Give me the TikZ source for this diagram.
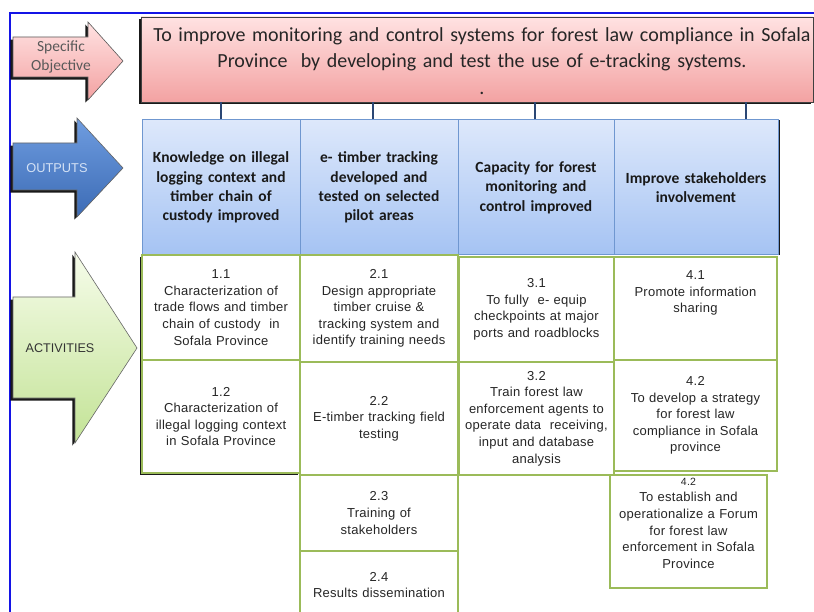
\documentclass[tikz,border=0pt]{standalone}
\usepackage{fontspec}
\setmainfont{Carlito}
\newfontfamily\arialf[LetterSpace=2]{Liberation Sans}
\newfontfamily\arialp{Liberation Sans}
\usetikzlibrary{shadows}
\definecolor{gbord}{HTML}{9BBB59}
\definecolor{obord}{HTML}{6F97D0}
\definecolor{otop}{HTML}{DDE8FB}
\definecolor{obot}{HTML}{A5C3F3}
\definecolor{ptop}{HTML}{FFE2E2}
\definecolor{pbot}{HTML}{F3A2A2}
\definecolor{conncol}{HTML}{2B4775}
\definecolor{framecol}{HTML}{1414E6}
\definecolor{btop}{HTML}{6F9DE0}
\definecolor{bbot}{HTML}{3C6BB5}
\definecolor{btext}{HTML}{D5E2F5}
\definecolor{gtop}{HTML}{F6FCEA}
\definecolor{gbot}{HTML}{C3E396}
\begin{document}
\begin{tikzpicture}[x=1pt,y=-1pt,
  actbox/.style={draw=gbord, line width=1.4pt, fill=white, align=center,
    font=\arialf\fontsize{13}{16.6}\selectfont, inner sep=0pt, text width=152pt, text=black!85},
  outbox/.style={draw=obord, line width=1pt, top color=otop, bottom color=obot,
    minimum height=135pt, inner sep=0pt, text width=150pt, align=center,
    font=\bfseries\fontsize{15.5}{19.3}\selectfont, text=black!90},
  bigarrow/.style={draw=black!70, line width=0.6pt},
  conn/.style={draw=conncol, line width=2.6pt},
  shad/.style={drop shadow={shadow xshift=-1.8pt, shadow yshift=-1.8pt, fill=black, opacity=0.9}},
  ashad/.style={drop shadow={shadow xshift=-2.6pt, shadow yshift=-2.6pt, fill=black, opacity=0.9}}
]
\useasboundingbox (0,0) rectangle (814,612);
\fill[white] (0,0) rectangle (814,612);

% frame
\draw[framecol, line width=1.6pt] (10,614) -- (10,13) -- (816,13);

% arrows
\path[bigarrow, ashad, top color=ptop, bottom color=pbot, draw=black!65]
  (13,37) -- (88,37) -- (88,22) -- (123,61) -- (88,100) -- (88,77) -- (13,77) -- cycle;
\node[font=\fontsize{15.5}{19}\selectfont, text=black!65, align=center] (lso) at (61,57) {Specific\\Objective};

\path[bigarrow, ashad, top color=btop, bottom color=bbot, draw=black!60]
  (13,143) -- (77,143) -- (77,118) -- (123,168) -- (77,217) -- (77,190) -- (13,190) -- cycle;
\node[font=\arialp\fontsize{12.8}{15}\selectfont, text=btext] (lout) at (57,168) {OUTPUTS};

\path[bigarrow, ashad, top color=gtop, bottom color=gbot, draw=black!60]
  (13,297) -- (75,297) -- (75,252) -- (137,348) -- (75,443) -- (75,398) -- (13,398) -- cycle;
\node[font=\arialp\fontsize{12.6}{15}\selectfont, text=black!80] (lact) at (60,348) {ACTIVITIES};

% specific objective box
\node[shad, draw=black!75, line width=0.8pt, top color=ptop, bottom color=pbot,
  minimum width=672pt, minimum height=85pt, inner sep=0pt] (obj) at (477,59.5) {};
\node[inner sep=0pt, text width=690pt, align=center,
  font=\fontsize{20}{25.5}\selectfont, text=black!85] (objtext) at (482,61.5)
  {To improve monitoring and control systems for forest law compliance in Sofala\\
   Province\ \ by developing and test the use of e-tracking systems.\\[2pt] .};

% outputs
\node[outbox, minimum width=158pt] (o1) at (221,187.5)
  {Knowledge on illegal\\ logging context and\\ timber chain of\\ custody improved};
\node[outbox, minimum width=158pt] (o2) at (379,187.5)
  {e- timber tracking\\ developed and\\ tested on selected\\ pilot areas};
\node[outbox, minimum width=156pt] (o3) at (536,187.5)
  {Capacity for forest\\ monitoring and\\ control improved};
\node[outbox, minimum width=164pt, drop shadow={shadow xshift=1.8pt, shadow yshift=0pt, fill=black, opacity=0.9}] (o4) at (696,187.5)
  {Improve stakeholders\\ involvement};

% connectors
\draw[conn] (o1.north) -- (o1.north |- obj.south);
\draw[conn] ([xshift=-6pt]o2.north) -- ([xshift=-6pt]o2.north |- obj.south);
\draw[conn] ([xshift=-1pt]o3.north) -- ([xshift=-1pt]o3.north |- obj.south);
\draw[conn] ([xshift=50pt]o4.north) -- ([xshift=50pt]o4.north |- obj.south);

% activities
\node[actbox, shad, minimum width=158pt, minimum height=105pt] (a11) at (221,307.5)
  {1.1\\ Characterization of\\ trade flows and timber\\ chain of custody\ \ in\\ Sofala Province};
\node[actbox, shad, minimum width=158pt, minimum height=113pt] (a12) at (221,416.5)
  {1.2\\ Characterization of\\ illegal logging context\\ in Sofala Province};

\node[actbox, minimum width=158pt, minimum height=107pt] (a21) at (379,308.5)
  {2.1\\ Design appropriate\\ timber cruise \&\\ tracking system and\\ identify training needs};
\node[actbox, minimum width=158pt, minimum height=113pt] (a22) at (379,418.5)
  {2.2\\ E-timber tracking field\\ testing};
\node[actbox, minimum width=158pt, minimum height=76pt] (a23) at (379,513)
  {2.3\\ Training of\\ stakeholders};
\node[actbox, minimum width=158pt, minimum height=68pt] (a24) at (379,585)
  {2.4\\ Results dissemination};

\node[actbox, minimum width=155pt, minimum height=105pt] (a31) at (536.5,309.5)
  {3.1\\ To fully\ \ e- equip\\ checkpoints at major\\ ports and roadblocks};
\node[actbox, minimum width=155pt, minimum height=113pt] (a32) at (536.5,418.5)
  {3.2\\ Train forest law\\ enforcement agents to\\ operate data\ \ receiving,\\ input and database\\ analysis};

\node[actbox, minimum width=163pt, minimum height=103pt] (a41) at (695.5,308.5)
  {4.1\\ Promote information\\ sharing\\ ~\\ ~};
\node[actbox, minimum width=163pt, minimum height=111pt] (a42) at (695.5,415.5)
  {4.2\\ To develop a strategy\\ for forest law\\ compliance in Sofala\\ province};
\node[actbox, minimum width=157pt, minimum height=113pt] (a43) at (688.5,531.5)
  {{\fontsize{10.5}{14}\selectfont 4.2}\\ To establish and\\ operationalize a Forum\\ for forest law\\ enforcement in Sofala\\ Province\\ ~};
\end{tikzpicture}
\end{document}
